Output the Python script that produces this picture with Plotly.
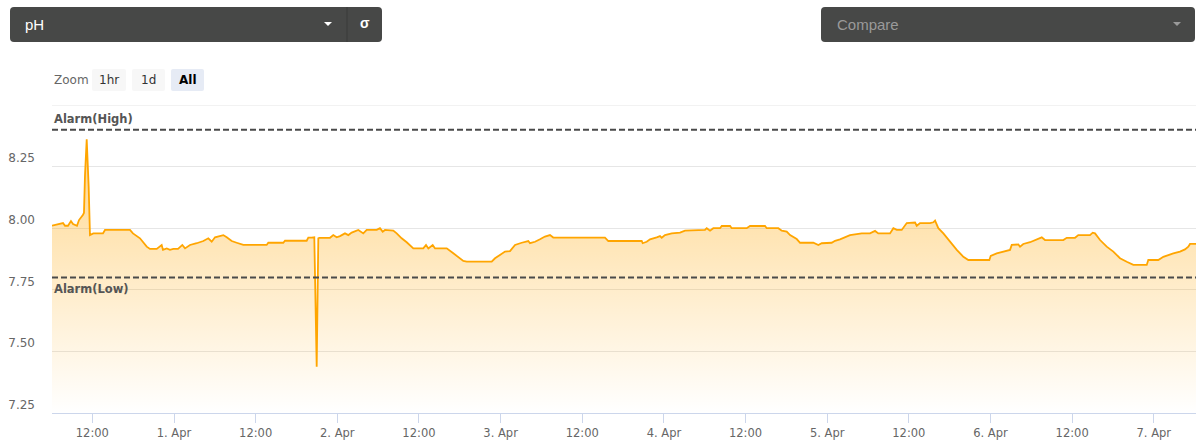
import pandas as pd
import plotly.graph_objects as go

# ---------------- data ----------------
BASE = pd.Timestamp("2019-03-31 00:00")
hours = [6.07, 7.25, 7.69, 7.98, 8.42, 8.86, 9.16, 9.74, 10.04, 10.63, 10.77, 10.92, 11.17, 11.46, 11.65,
         12.14, 13.56, 13.86, 17.53, 17.97, 19.00, 19.99, 20.47, 21.46, 22.19, 22.38, 22.93, 23.41, 23.90,
         24.59, 25.22, 25.62, 26.35, 27.34, 28.31, 29.04, 29.54, 30.03, 31.25, 31.75, 32.48, 33.21, 34.19,
         37.62, 37.86, 40.06, 40.31, 43.50, 43.74, 44.24, 44.62, 44.97, 45.21, 45.36, 46.93, 47.41, 47.91,
         48.40, 49.13, 49.62, 50.12, 51.09, 51.82, 52.32, 53.79, 54.27, 54.67, 55.01, 56.23, 56.73, 57.46,
         58.20, 59.17, 60.64, 61.04, 61.38, 62.02, 62.36, 64.08, 65.05, 65.78, 66.52, 67.02, 70.69, 71.18,
         71.91, 72.65, 73.38, 74.12, 75.10, 76.07, 76.32, 77.06, 77.79, 78.52, 79.26, 79.74, 87.34, 87.83,
         92.74, 92.88, 93.47, 93.96, 94.94, 95.43, 95.68, 96.16, 97.15, 98.37, 99.10, 100.09, 100.32, 102.04,
         102.29, 102.78, 103.26, 104.25, 104.50, 105.72, 105.97, 108.17, 108.66, 110.86, 111.11, 112.82,
         113.32, 114.05, 114.54, 115.52, 116.01, 117.96, 118.70, 119.19, 120.66, 121.15, 121.88, 122.87,
         123.35, 125.07, 126.29, 127.03, 127.51, 129.23, 129.72, 130.22, 130.95, 131.69, 132.66, 132.91,
         133.16, 133.64, 135.11, 135.60, 135.85, 136.33, 137.07, 138.05, 139.04, 140.01, 140.74, 143.83,
         144.03, 144.91, 145.88, 146.87, 147.12, 148.09, 148.34, 148.82, 149.81, 150.54, 151.53, 152.01,
         154.70, 155.20, 156.42, 156.90, 158.62, 159.02, 159.36, 160.10, 161.08, 162.05, 163.03, 164.02,
         164.99, 166.96, 167.19, 168.66, 169.40, 170.87, 171.85, 172.58, 173.07, 173.32, 174.20]
ph = [8.010, 8.017, 8.021, 8.010, 8.010, 8.029, 8.017, 8.010, 8.033, 8.054, 8.063, 8.216, 8.361, 8.168, 7.972,
      7.979, 7.979, 7.993, 7.993, 7.979, 7.959, 7.925, 7.916, 7.916, 7.932, 7.912, 7.918, 7.912, 7.916,
      7.916, 7.932, 7.918, 7.932, 7.939, 7.948, 7.959, 7.945, 7.963, 7.972, 7.963, 7.948, 7.941, 7.932,
      7.932, 7.941, 7.941, 7.949, 7.949, 7.962, 7.962, 7.963, 7.438, 7.959, 7.961, 7.961, 7.972, 7.963,
      7.968, 7.979, 7.972, 7.982, 7.993, 7.979, 7.993, 7.993, 8.000, 7.986, 7.993, 7.990, 7.979, 7.959,
      7.943, 7.918, 7.918, 7.932, 7.918, 7.932, 7.918, 7.918, 7.898, 7.882, 7.867, 7.864, 7.864, 7.878,
      7.891, 7.905, 7.907, 7.932, 7.941, 7.948, 7.939, 7.945, 7.955, 7.966, 7.972, 7.962, 7.962, 7.948,
      7.948, 7.939, 7.945, 7.955, 7.963, 7.968, 7.961, 7.972, 7.979, 7.982, 7.990, 7.990, 7.993, 7.993,
      8.000, 7.990, 8.000, 8.000, 8.009, 8.009, 8.000, 8.000, 8.009, 8.009, 8.000, 8.000,
      7.990, 7.986, 7.972, 7.956, 7.941, 7.941, 7.932, 7.939, 7.941, 7.949, 7.955, 7.966,
      7.972, 7.979, 7.979, 7.989, 7.979, 7.979, 8.000, 7.993, 7.993, 8.021, 8.021, 8.023,
      8.010, 8.021, 8.021, 8.024, 8.031, 8.000, 7.979, 7.945, 7.912, 7.884, 7.871, 7.871,
      7.888, 7.898, 7.905, 7.912, 7.932, 7.934, 7.925, 7.936, 7.943, 7.952, 7.963, 7.952,
      7.952, 7.961, 7.961, 7.972, 7.972, 7.982, 7.979, 7.952, 7.925, 7.905, 7.878, 7.864,
      7.851, 7.851, 7.871, 7.871, 7.884, 7.898, 7.905, 7.914, 7.925, 7.936, 7.936]

alarm_high = 8.4
alarm_low = 7.8
y_ticks = [7.25, 7.5, 7.75, 8.0, 8.25]
y_ticktext = ["7.25", "7.50", "7.75", "8.00", "8.25"]
y_top = 8.5
x_tick_hours = [12, 24, 36, 48, 60, 72, 84, 96, 108, 120, 132, 144, 156, 168]
x_ticktext = ["12:00", "1. Apr", "12:00", "2. Apr", "12:00", "3. Apr", "12:00",
              "4. Apr", "12:00", "5. Apr", "12:00", "6. Apr", "12:00", "7. Apr"]
zoom_buttons = ["1hr", "1d", "All"]

times = BASE + pd.to_timedelta(hours, unit="h")
x_tickvals = BASE + pd.to_timedelta(x_tick_hours, unit="h")

# ---------------- geometry helpers (pixel -> paper) ----------------
W, H = 1200, 447
L, R, T, B = 52, 1196, 105, 413


def px(x):
    return (x - L) / (R - L)


def py(y):
    return (B - y) / (B - T)


def rrect(x0, y0, x1, y1, r):
    rx = r / (R - L)
    ry = r / (B - T)
    a, b, c, d = px(x0), px(x1), py(y0), py(y1)  # c top, d bottom
    return (f"M{a+rx},{c} L{b-rx},{c} Q{b},{c} {b},{c-ry} L{b},{d+ry} Q{b},{d} {b-rx},{d} "
            f"L{a+rx},{d} Q{a},{d} {a},{d+ry} L{a},{c-ry} Q{a},{c} {a+rx},{c} Z")


def tri(cx, cy, w, h):
    return (f"M{px(cx-w/2)},{py(cy-h/2)} L{px(cx+w/2)},{py(cy-h/2)} L{px(cx)},{py(cy+h/2)} Z")


fig = go.Figure()
fig.add_trace(go.Scatter(
    x=times, y=ph, mode="lines",
    line=dict(color="#FFA500", width=1.8),
    fill="tozeroy",
    fillgradient=dict(type="vertical", start=7.25, stop=8.36,
                      colorscale=[[0, "rgba(255,165,0,0.0)"], [1, "rgba(255,165,0,0.45)"]]),
    hoverinfo="skip", showlegend=False,
))

shapes = []
# top gridline (range edge)
shapes.append(dict(type="line", xref="paper", yref="y", x0=0, x1=1, y0=y_top, y1=y_top,
                   line=dict(color="#e6e6e6", width=1), layer="below"))
# alarm lines
for v in (alarm_high, alarm_low):
    shapes.append(dict(type="line", xref="paper", yref="y", x0=0, x1=1, y0=v, y1=v,
                       line=dict(color="#4a4a4a", width=2, dash="6px,3px"), layer="above"))
# top dropdowns
shapes.append(dict(type="path", xref="paper", yref="paper", path=rrect(10, 7, 382, 42, 4),
                   fillcolor="#474847", line=dict(width=0)))
shapes.append(dict(type="line", xref="paper", yref="paper", x0=px(347), x1=px(347), y0=py(7), y1=py(42),
                   line=dict(color="#3a3b3a", width=1)))
shapes.append(dict(type="path", xref="paper", yref="paper", path=tri(328, 24, 8, 4),
                   fillcolor="#ffffff", line=dict(width=0)))
shapes.append(dict(type="path", xref="paper", yref="paper", path=rrect(821, 7, 1195, 42, 4),
                   fillcolor="#474847", line=dict(width=0)))
shapes.append(dict(type="path", xref="paper", yref="paper", path=tri(1177, 24, 8, 4),
                   fillcolor="#9a9a9a", line=dict(width=0)))
# zoom buttons
btn_x = [(92, 126), (132, 165), (171, 204)]
for i, (a, b) in enumerate(btn_x):
    shapes.append(dict(type="path", xref="paper", yref="paper", path=rrect(a, 69, b, 91, 2),
                       fillcolor="#e6ebf5" if i == 2 else "#f7f7f7", line=dict(width=0)))

ann = []
ann.append(dict(text="pH", x=px(23), y=py(24), xref="paper", yref="paper", xanchor="left", yanchor="middle",
                showarrow=False, font=dict(family="Liberation Sans, Arial", size=15, color="#ffffff")))
ann.append(dict(text="<b>σ</b>", x=px(365), y=py(23), xref="paper", yref="paper", xanchor="center",
                yanchor="middle", showarrow=False,
                font=dict(family="Liberation Sans, Arial", size=14, color="#ffffff")))
ann.append(dict(text="Compare", x=px(835), y=py(24), xref="paper", yref="paper", xanchor="left", yanchor="middle",
                showarrow=False, font=dict(family="Liberation Sans, Arial", size=15, color="#9a9a9a")))
ann.append(dict(text="Zoom", x=px(52), y=py(80), xref="paper", yref="paper", xanchor="left", yanchor="middle",
                showarrow=False, font=dict(family="DejaVu Sans", size=12, color="#666666")))
for i, (a, b) in enumerate(btn_x):
    lab = zoom_buttons[i]
    ann.append(dict(text=f"<b>{lab}</b>" if i == 2 else lab, x=px((a + b) / 2), y=py(80), xref="paper",
                    yref="paper", xanchor="center", yanchor="middle", showarrow=False,
                    font=dict(family="DejaVu Sans", size=12, color="#000000" if i == 2 else "#333333")))
ann.append(dict(text="<b>Alarm(High)</b>", x=0, y=alarm_high, xref="paper", yref="y", xanchor="left",
                yanchor="bottom", yshift=2, showarrow=False,
                font=dict(family="DejaVu Sans", size=11.5, color="#555555")))
ann.append(dict(text="<b>Alarm(Low)</b>", x=0, y=alarm_low, xref="paper", yref="y", xanchor="left",
                yanchor="top", yshift=-3, showarrow=False,
                font=dict(family="DejaVu Sans", size=11.5, color="#555555")))

fig.update_layout(
    width=W, height=H, autosize=False,
    margin=dict(l=L, r=W - R, t=T, b=H - B, pad=0),
    paper_bgcolor="#ffffff", plot_bgcolor="#ffffff",
    shapes=shapes, annotations=ann,
    font=dict(family="DejaVu Sans", color="#666666"),
)
fig.update_xaxes(
    type="date", range=[times[0], times[-1]],
    tickvals=x_tickvals, ticktext=x_ticktext,
    showgrid=False, zeroline=False,
    showline=True, linecolor="#ccd6eb", linewidth=1,
    ticks="outside", ticklen=9, tickcolor="#ccd6eb", tickwidth=1,
    tickfont=dict(family="DejaVu Sans", size=11.5, color="#666666"),
)
fig.update_yaxes(
    range=[7.25, y_top], tickvals=y_ticks, ticktext=y_ticktext,
    showgrid=True, gridcolor="#e6e6e6", gridwidth=1, zeroline=False, showline=False,
    ticks="", ticklabelposition="outside top", ticklabelstandoff=16,
    tickfont=dict(family="DejaVu Sans", size=12, color="#666666"),
)

fig.write_html("out.html", config={"displayModeBar": False},
               post_script="document.body.style.margin='0';document.body.style.overflow='hidden';")
